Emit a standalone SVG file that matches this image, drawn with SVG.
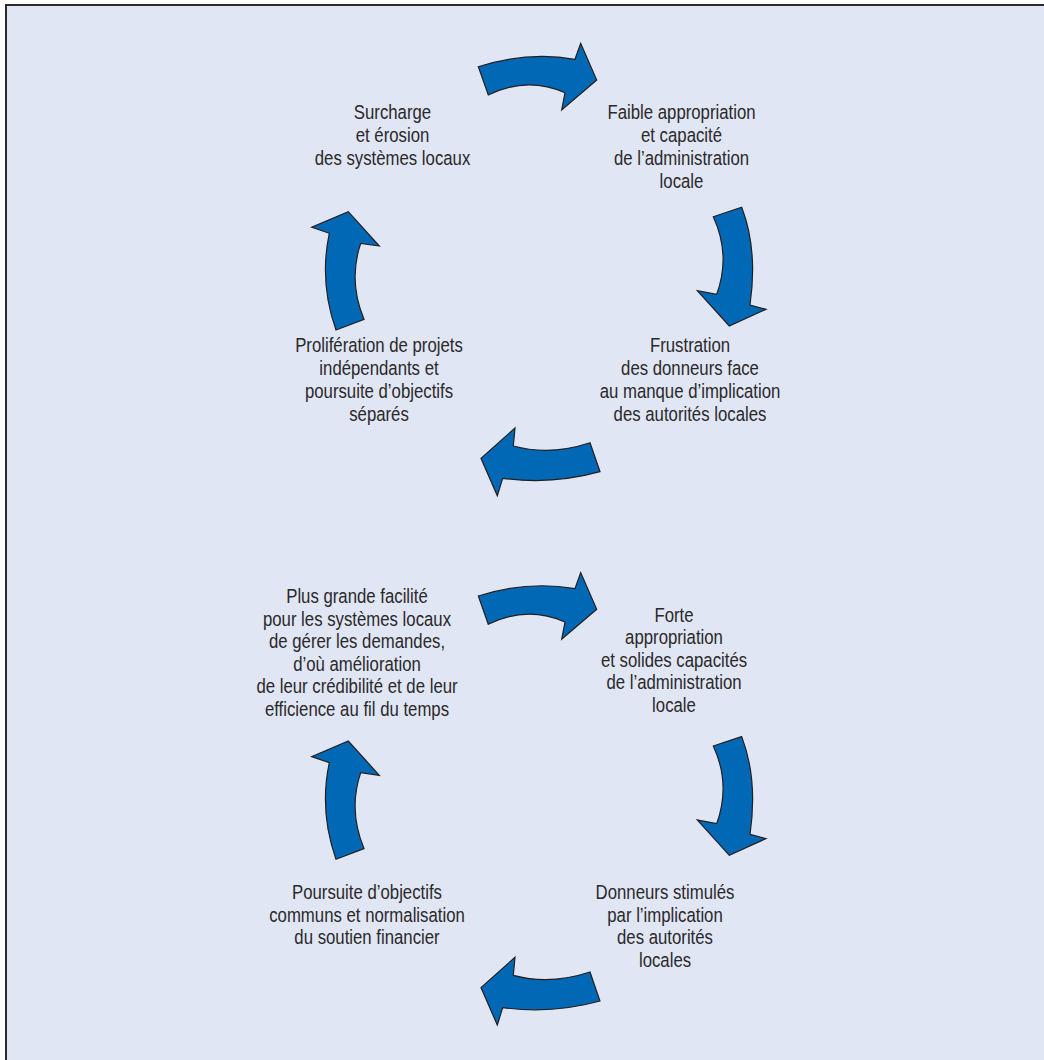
<svg xmlns="http://www.w3.org/2000/svg" width="1044" height="1060" viewBox="0 0 1044 1060">
<defs>
<style>
.bg{fill:#e1e6f4;stroke:#2b2a2c;stroke-width:2}
.arr{fill:#0068b4;stroke:#231f20;stroke-width:1.2;stroke-linejoin:miter}
.lbl{font-family:"Liberation Sans",Arial,sans-serif;font-size:19.5px;fill:#2a292b;text-anchor:middle}
</style>
<g id="arrowR"><path class="arr" d="M478.3,66.7 Q528,51 575,59.3 L580.7,43.3 L596.7,80 L561.7,110 L565,92.7 Q527,76 488.3,95 Z"/></g>
<g id="arrowD"><path class="arr" d="M713.3,216.7 L741.7,207.3 Q758,250 750,305 L766,309.3 L729.3,326 L697.3,290.7 L716.7,294.3 Q731,255 713.3,216.7 Z"/></g>
<g id="arrowL"><path class="arr" d="M590,442.7 L600,471.7 Q552,485 502.7,478.3 L497.3,495.7 L481,458.3 L515,428 L513.3,446 Q550,456 590,442.7 Z"/></g>
<g id="arrowU"><path class="arr" d="M336,330 L364,319.3 Q348,281 360.7,243.3 L379.3,246 L348.3,211.7 L311.7,227.3 L329.3,233.3 Q319,282 336,330 Z"/></g>
</defs>
<rect x="0" y="0" width="1044" height="1060" fill="#ffffff"/>
<rect class="bg" x="6" y="5" width="1100" height="1100"/>

<g id="connectors">
<use href="#arrowR"/>
<use href="#arrowD"/>
<use href="#arrowL"/>
<use href="#arrowU"/>
<use href="#arrowR" transform="translate(0,529.3)"/>
<use href="#arrowD" transform="translate(0,529.3)"/>
<use href="#arrowL" transform="translate(0,529.3)"/>
<use href="#arrowU" transform="translate(0,529.3)"/>
</g>

<g id="n1"><text class="lbl" transform="translate(392.5,0) scale(0.86,1)"><tspan x="0" y="119.5">Surcharge</tspan><tspan x="0" y="142.3">et érosion</tspan><tspan x="0" y="165">des systèmes locaux</tspan></text></g>
<g id="n2"><text class="lbl" transform="translate(681.5,0) scale(0.86,1)"><tspan x="0" y="119.5">Faible appropriation</tspan><tspan x="0" y="142.3">et capacité</tspan><tspan x="0" y="165">de l’administration</tspan><tspan x="0" y="187.7">locale</tspan></text></g>
<g id="n3"><text class="lbl" transform="translate(690,0) scale(0.86,1)"><tspan x="0" y="352.5">Frustration</tspan><tspan x="0" y="375.2">des donneurs face</tspan><tspan x="0" y="397.9">au manque d’implication</tspan><tspan x="0" y="420.6">des autorités locales</tspan></text></g>
<g id="n4"><text class="lbl" transform="translate(379,0) scale(0.86,1)"><tspan x="0" y="352.5">Prolifération de projets</tspan><tspan x="0" y="375.2">indépendants et</tspan><tspan x="0" y="397.9">poursuite d’objectifs</tspan><tspan x="0" y="420.6">séparés</tspan></text></g>
<g id="n5"><text class="lbl" transform="translate(357,0) scale(0.86,1)"><tspan x="0" y="603.3">Plus grande facilité</tspan><tspan x="0" y="625.8">pour les systèmes locaux</tspan><tspan x="0" y="648.3">de gérer les demandes,</tspan><tspan x="0" y="670.8">d’où amélioration</tspan><tspan x="0" y="693.3">de leur crédibilité et de leur</tspan><tspan x="0" y="715.8">efficience au fil du temps</tspan></text></g>
<g id="n6"><text class="lbl" transform="translate(674,0) scale(0.86,1)"><tspan x="0" y="621.7">Forte</tspan><tspan x="0" y="644.2">appropriation</tspan><tspan x="0" y="666.7">et solides capacités</tspan><tspan x="0" y="689.2">de l’administration</tspan><tspan x="0" y="711.7">locale</tspan></text></g>
<g id="n7"><text class="lbl" transform="translate(665,0) scale(0.86,1)"><tspan x="0" y="899">Donneurs stimulés</tspan><tspan x="0" y="921.7">par l’implication</tspan><tspan x="0" y="944.4">des autorités</tspan><tspan x="0" y="967.1">locales</tspan></text></g>
<g id="n8"><text class="lbl" transform="translate(367,0) scale(0.86,1)"><tspan x="0" y="899">Poursuite d’objectifs</tspan><tspan x="0" y="921.7">communs et normalisation</tspan><tspan x="0" y="944.4">du soutien financier</tspan></text></g>
</svg>
